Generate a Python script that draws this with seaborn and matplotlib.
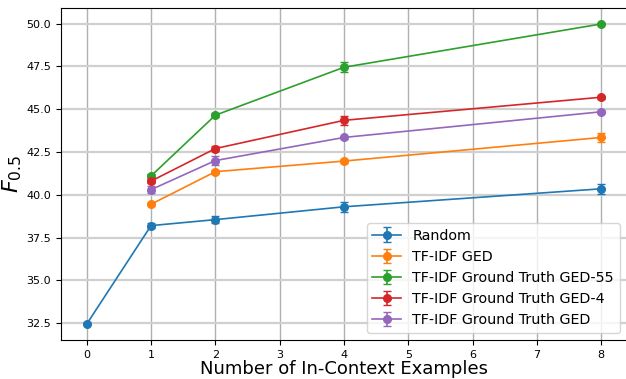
import matplotlib
matplotlib.use('Agg')
import matplotlib.pyplot as plt
import seaborn as sns
import numpy as np

# Data
x_random = [0, 1, 2, 4, 8]
random_mean = [32.45, 38.2, 38.55, 39.3, 40.35]
random_err = [0.05, 0.15, 0.22, 0.28, 0.28]

x_other = [1, 2, 4, 8]
tfidf_ged = [39.45, 41.35, 41.97, 43.35]
tfidf_ged_err = [0.1, 0.12, 0.1, 0.25]
gt_ged55 = [41.1, 44.65, 47.45, 49.98]
gt_ged55_err = [0.1, 0.1, 0.3, 0.05]
gt_ged4 = [40.8, 42.7, 44.35, 45.7]
gt_ged4_err = [0.1, 0.15, 0.25, 0.08]
gt_ged = [40.3, 42.0, 43.35, 44.85]
gt_ged_err = [0.2, 0.25, 0.1, 0.1]

series = [
    ('Random', x_random, random_mean, random_err),
    ('TF-IDF GED', x_other, tfidf_ged, tfidf_ged_err),
    ('TF-IDF Ground Truth GED-55', x_other, gt_ged55, gt_ged55_err),
    ('TF-IDF Ground Truth GED-4', x_other, gt_ged4, gt_ged4_err),
    ('TF-IDF Ground Truth GED', x_other, gt_ged, gt_ged_err),
]

colors = sns.color_palette('tab10', 5)

fig = plt.figure(figsize=(6.26, 3.79), dpi=100)
ax = fig.add_axes([61 / 626, 39 / 379, 566 / 626, 332 / 379])

for (label, xs, ys, errs), c in zip(series, colors):
    ax.errorbar(xs, ys, yerr=errs, label=label, color=c, marker='o',
                markersize=5.5, capsize=3, linewidth=1.2, elinewidth=1.2)

ax.grid(axis='x', color='#b0b0b0', linewidth=1.0)
ax.grid(axis='y', color='#d0d0d0', linewidth=1.6)
ax.set_axisbelow(True)

ax.set_yticks(np.arange(32.5, 50.1, 2.5))
ax.set_xticks(range(0, 9))
ax.tick_params(labelsize=8)
ax.set_xlabel('Number of In-Context Examples', fontsize=13, labelpad=0)
ax.set_ylabel('$F_{0.5}$', fontsize=16, labelpad=2)
ax.legend(loc='lower right', fontsize=10.3, framealpha=0.8)

fig.savefig('out.png', dpi=100)
